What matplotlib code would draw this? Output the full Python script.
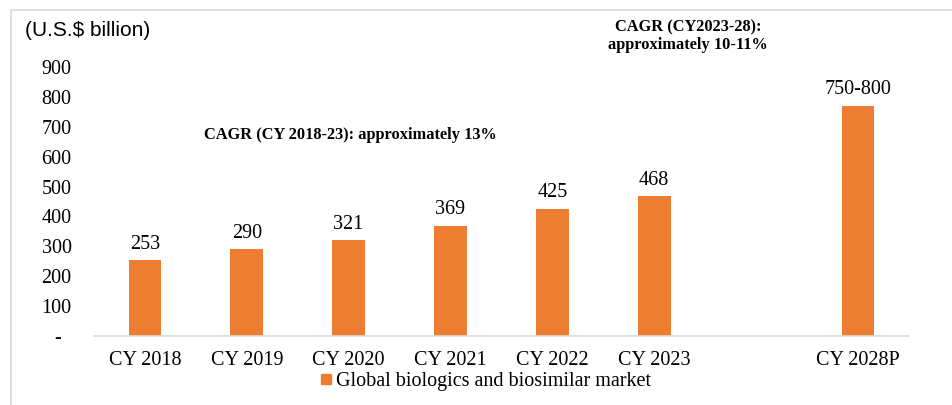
# grafic de barres: mercat global de biologics i biosimilars (US$ bn)
import matplotlib
matplotlib.use('Agg')
import matplotlib.pyplot as plt
from matplotlib.patches import Rectangle
from matplotlib.lines import Line2D

# dades
years = ["CY 2018", "CY 2019", "CY 2020", "CY 2021", "CY 2022", "CY 2023", "CY 2028P"]
values = [253, 290, 321, 369, 425, 468, 770]
value_labels = ["253", "290", "321", "369", "425", "468", "750-800"]
positions = [0, 1, 2, 3, 4, 5, 7]   # deixo un forat abans de la projeccio

y_ticks = [0, 100, 200, 300, 400, 500, 600, 700, 800, 900]
y_tick_labels = ["-  ", "100", "200", "300", "400", "500", "600", "700", "800", "900"]

ORANGE = '#ED7D31'
SERIF = 'Liberation Serif'
SANS = 'Liberation Sans'

fig = plt.figure(figsize=(9.52, 4.05), dpi=100)
ax = fig.add_axes([0.0987, 0.170, 0.856, 0.665])

ax.bar(positions, values, width=0.32, color=ORANGE, zorder=2)
for x, v, lab in zip(positions, values, value_labels):
    ax.text(x, v + 22, lab, ha='center', va='bottom', fontsize=14.5, family=SERIF)

ax.set_xlim(-0.5, 7.5)
ax.set_ylim(0, 900)
ax.set_xticks(positions)
ax.set_xticklabels(years, fontsize=14.5, family=SERIF)
ax.set_yticks(y_ticks)
ax.set_yticklabels(y_tick_labels, fontsize=14.5, family=SERIF)
ax.tick_params(axis='both', length=0)
ax.tick_params(axis='x', pad=11)
ax.tick_params(axis='y', pad=16)

for s in ['top', 'right', 'left']:
    ax.spines[s].set_visible(False)
ax.spines['bottom'].set_color('#D9D9D9')
ax.spines['bottom'].set_linewidth(1.2)

# anotacions CAGR
ax.text(2.02, 672, "CAGR (CY 2018-23): approximately 13%", ha='center', va='center',
        fontsize=11.8, fontweight='bold', family=SERIF)
ax.text(5.33, 1003, "CAGR (CY2023-28):\napproximately 10-11%", ha='center', va='center',
        fontsize=11.8, fontweight='bold', family=SERIF, linespacing=1.1, clip_on=False)

# unitats
fig.text(25 / 952, 1 - 31 / 405, "(U.S.$ billion)", ha='left', va='center',
         fontsize=15, family=SANS)

# llegenda a sota
handle = Line2D([], [], marker='s', color=ORANGE, linestyle='None', markersize=7)
fig.legend([handle], ["Global biologics and biosimilar market"], loc='center',
           bbox_to_anchor=(485 / 952, 1 - 381 / 405), frameon=False,
           prop={'family': SERIF, 'size': 14.5}, handletextpad=0.1, handlelength=0.7)

# marc gris del requadre original (nomes es veu dalt i a l'esquerra)
fig.patches.append(Rectangle((11 / 952, -0.05), 1.0, 1 - 10 / 405 + 0.05,
                             transform=fig.transFigure, fill=False,
                             edgecolor='#D9D9D9', linewidth=1.2))

fig.savefig('out.png', dpi=100)
